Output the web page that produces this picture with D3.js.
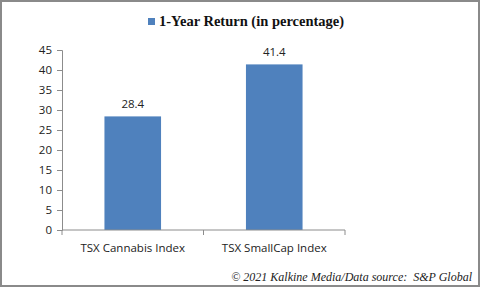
<!DOCTYPE html>
<html>
<head>
<meta charset="utf-8">
<script src="https://cdn.jsdelivr.net/npm/d3@7"></script>
<style>
  body { margin: 0; background: #fff; }
  svg { display: block; }
</style>
</head>
<body>
<svg width="481" height="289"></svg>
<script>
const categories = ["TSX Cannabis Index", "TSX SmallCap Index"];
const returns = [28.4, 41.4];
const yTicks = [0, 5, 10, 15, 20, 25, 30, 35, 40, 45];
const seriesName = "1-Year Return (in percentage)";
const sourceNote = "\u00a9 2021 Kalkine Media/Data source:  S&P Global";

const width = 481;
const height = 289;
const margin = { top: 50, bottom: 59, left: 62, right: 136 };
const barColor = "#4f81bd";
const labelFont = "'Open Sans', sans-serif";

const svg = d3.select("svg");

// outer frame
svg.append("rect")
  .attr("x", 1).attr("y", 1)
  .attr("width", width - 3).attr("height", height - 4)
  .attr("fill", "#fff")
  .attr("stroke", "#8a8a8a")
  .attr("stroke-width", 2);

// excel-style gap width 150%
const xScale = d3.scaleBand()
  .domain(categories)
  .range([margin.left, width - margin.right])
  .paddingInner(0.6)
  .paddingOuter(0.3);

const yScale = d3.scaleLinear()
  .domain([0, 45])
  .range([height - margin.bottom, margin.top]);

// bars
svg.selectAll("rect.bar")
  .data(returns)
  .enter()
  .append("rect")
  .attr("class", "bar")
  .attr("x", (d, i) => xScale(categories[i]))
  .attr("y", d => yScale(d))
  .attr("width", xScale.bandwidth())
  .attr("height", d => yScale(0) - yScale(d))
  .attr("fill", barColor);

// value labels
svg.selectAll("text.val")
  .data(returns)
  .enter()
  .append("text")
  .attr("class", "val")
  .attr("x", (d, i) => xScale(categories[i]) + xScale.bandwidth() / 2)
  .attr("y", d => yScale(d) - 8)
  .attr("text-anchor", "middle")
  .attr("font-family", labelFont)
  .attr("font-size", 11.5)
  .attr("fill", "#222")
  .text(d => d.toFixed(1));

// y axis
const yAxis = d3.axisLeft(yScale).tickValues(yTicks).tickSize(5).tickPadding(5);
const gy = svg.append("g")
  .attr("transform", `translate(${margin.left},0)`)
  .call(yAxis);
gy.select(".domain").attr("stroke", "#8c8c8c");
gy.selectAll(".tick line").attr("stroke", "#8c8c8c");
gy.selectAll(".tick text")
  .attr("font-family", labelFont)
  .attr("font-size", 11.5)
  .attr("fill", "#222");

// x axis with boundary ticks between categories
const xAxisY = yScale(0);
const gx = svg.append("g").attr("transform", `translate(0,${xAxisY})`);
gx.append("line")
  .attr("x1", margin.left).attr("x2", width - margin.right)
  .attr("stroke", "#8c8c8c");
const edges = [margin.left, (margin.left + width - margin.right) / 2, width - margin.right];
gx.selectAll("line.edge")
  .data(edges)
  .enter()
  .append("line")
  .attr("class", "edge")
  .attr("x1", d => d).attr("x2", d => d)
  .attr("y1", 0).attr("y2", 5)
  .attr("stroke", "#8c8c8c");
gx.selectAll("text")
  .data(categories)
  .enter()
  .append("text")
  .attr("x", d => xScale(d) + xScale.bandwidth() / 2)
  .attr("y", 22)
  .attr("text-anchor", "middle")
  .attr("font-family", labelFont)
  .attr("font-size", 11.5)
  .attr("fill", "#222")
  .text(d => d);

// legend
const legend = svg.append("g").attr("transform", "translate(148,18)");
legend.append("rect")
  .attr("width", 7).attr("height", 7)
  .attr("fill", barColor);
legend.append("text")
  .attr("x", 11).attr("y", 8)
  .attr("font-family", "'Liberation Serif', 'Times New Roman', serif")
  .attr("font-weight", "bold")
  .attr("font-size", 14.5)
  .attr("fill", "#111")
  .text(seriesName);

// source note
svg.append("text")
  .attr("x", 472).attr("y", 281)
  .attr("text-anchor", "end")
  .attr("font-family", "'Liberation Serif', 'Times New Roman', serif")
  .attr("font-style", "italic")
  .attr("font-size", 12)
  .attr("fill", "#222")
  .style("white-space", "pre")
  .text(sourceNote);
</script>
</body>
</html>
